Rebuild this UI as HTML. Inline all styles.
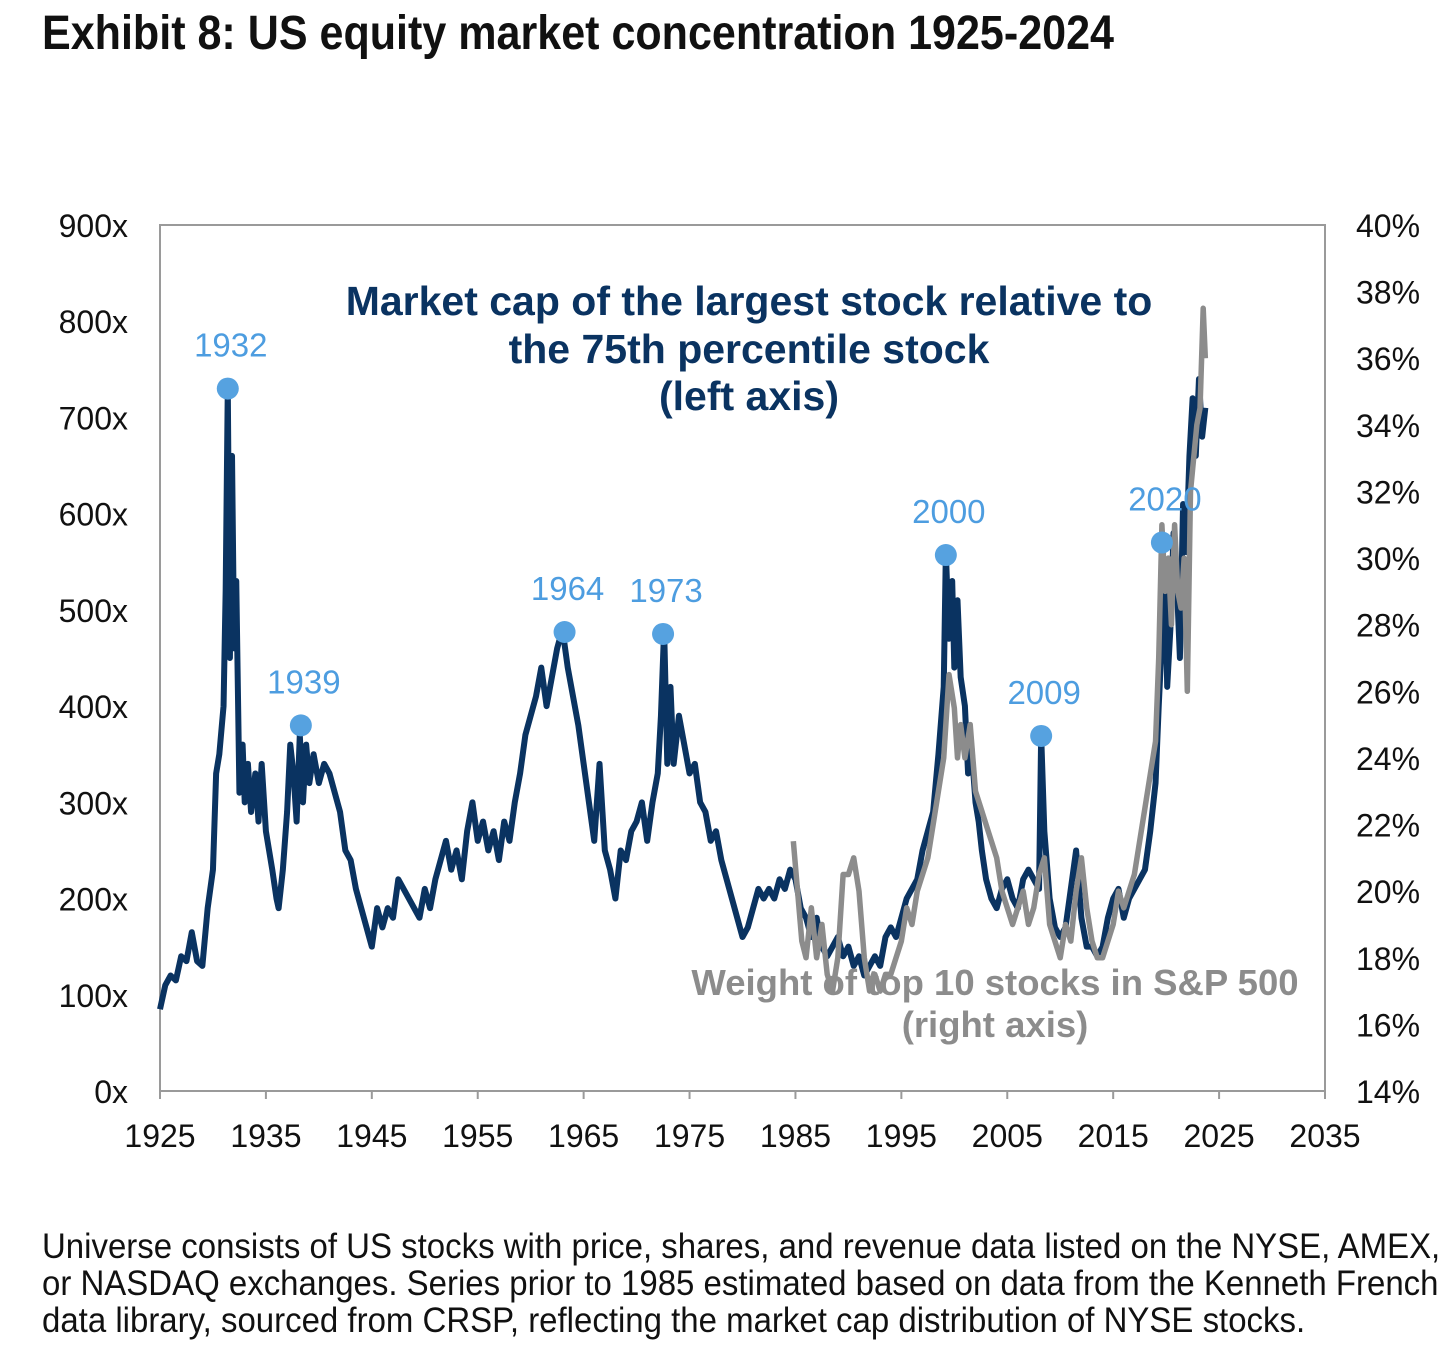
<!DOCTYPE html>
<html><head><meta charset="utf-8">
<style>
html,body{margin:0;padding:0;background:#fff;}
body{width:1456px;height:1362px;overflow:hidden;position:relative;font-family:"Liberation Sans",sans-serif;}
#title{position:absolute;left:42px;top:6px;font-family:"Liberation Sans",sans-serif;font-weight:bold;font-size:48px;color:#111;white-space:nowrap;transform:scaleX(0.897);transform-origin:left top;}
#foot{position:absolute;left:42px;top:1228px;font-family:"Liberation Sans",sans-serif;font-size:35px;line-height:37px;color:#111;white-space:nowrap;transform:scaleX(0.942);transform-origin:left top;}
svg{position:absolute;left:0;top:0;}
</style></head><body>
<div id="title">Exhibit 8: US equity market concentration 1925-2024</div>
<svg id="chart" width="1456" height="1362"></svg>
<div id="foot">Universe consists of US stocks with price, shares, and revenue data listed on the NYSE, AMEX,<br>or NASDAQ exchanges. Series prior to 1985 estimated based on data from the Kenneth French<br>data library, sourced from CRSP, reflecting the market cap distribution of NYSE stocks.</div>
<script>
const navyYears=[1925,1925.5,1926,1926.5,1927,1927.5,1928,1928.5,1929,1929.5,1930,1930.3,1930.6,1931,1931.2,1931.4,1931.6,1931.8,1932,1932.2,1932.5,1932.8,1933,1933.3,1933.6,1934,1934.3,1934.6,1935,1935.3,1935.6,1936,1936.2,1936.6,1937,1937.3,1937.6,1937.9,1938.2,1938.5,1938.8,1939.1,1939.5,1940,1940.5,1941,1941.5,1942,1942.5,1943,1943.5,1944,1944.5,1945,1945.5,1946,1946.5,1947,1947.5,1948,1948.5,1949,1949.5,1950,1950.5,1951,1951.5,1952,1952.5,1953,1953.5,1954,1954.5,1955,1955.5,1956,1956.5,1957,1957.5,1958,1958.5,1959,1959.5,1960,1960.5,1961,1961.5,1962,1962.5,1963,1963.5,1964,1964.5,1965,1965.5,1966,1966.5,1967,1967.5,1968,1968.5,1969,1969.5,1970,1970.5,1971,1971.5,1972,1972.3,1972.6,1972.9,1973.2,1973.5,1974,1974.5,1975,1975.5,1976,1976.5,1977,1977.5,1978,1978.5,1979,1979.5,1980,1980.5,1981,1981.5,1982,1982.5,1983,1983.5,1984,1984.5,1985,1985.5,1986,1986.5,1987,1987.5,1988,1988.5,1989,1989.5,1990,1990.5,1991,1991.5,1992,1992.5,1993,1993.5,1994,1994.5,1995,1995.5,1996,1996.5,1997,1997.5,1998,1998.5,1999,1999.2,1999.5,1999.8,2000,2000.3,2000.6,2001,2001.3,2001.6,2002,2002.3,2002.6,2003,2003.5,2004,2004.5,2005,2005.5,2006,2006.5,2007,2007.5,2008,2008.2,2008.5,2009,2009.5,2010,2010.5,2011,2011.5,2012,2012.5,2013,2013.5,2014,2014.5,2015,2015.5,2016,2016.5,2017,2017.5,2018,2018.5,2019,2019.3,2019.6,2019.9,2020.1,2020.4,2020.7,2021,2021.3,2021.6,2021.9,2022.2,2022.5,2022.8,2023.1,2023.4,2023.7];
const navyValues=[85,110,120,115,140,135,165,135,130,190,230,330,350,400,520,730,450,660,460,530,310,360,300,340,290,330,280,340,270,250,230,200,190,230,290,360,330,280,370,300,360,320,350,320,340,330,310,290,250,240,210,190,170,150,190,170,190,180,220,210,200,190,180,210,190,220,240,260,230,250,220,270,300,260,280,250,270,240,280,260,300,330,370,390,410,440,400,430,460,480,440,410,380,340,300,260,340,250,230,200,250,240,270,280,300,260,300,330,390,480,340,420,340,390,360,330,340,300,290,260,270,240,220,200,180,160,170,190,210,200,210,200,220,210,230,220,190,180,160,180,150,140,150,160,140,150,130,140,120,130,140,130,160,170,160,180,200,210,220,250,270,290,350,420,560,470,530,440,510,430,400,330,360,300,280,250,220,200,190,210,220,200,190,220,230,220,210,370,270,200,170,160,170,210,250,180,150,150,140,150,180,200,210,180,200,210,220,230,270,320,400,470,540,420,480,580,530,450,610,560,660,720,660,740,680,710];
const grayYears=[1984.8,1985.2,1985.6,1986,1986.5,1987,1987.5,1988,1988.5,1989,1989.5,1990,1990.5,1991,1991.5,1992,1992.5,1993,1993.5,1994,1994.5,1995,1995.5,1996,1996.5,1997,1997.5,1998,1998.5,1999,1999.5,2000,2000.3,2000.6,2001,2001.5,2002,2002.5,2003,2003.5,2004,2004.5,2005,2005.5,2006,2006.5,2007,2007.5,2008,2008.5,2009,2009.5,2010,2010.5,2011,2011.5,2012,2012.5,2013,2013.5,2014,2014.5,2015,2015.5,2016,2016.5,2017,2017.5,2018,2018.5,2019,2019.3,2019.6,2019.9,2020.2,2020.5,2020.8,2021.1,2021.4,2021.7,2022,2022.3,2022.6,2022.9,2023.2,2023.5,2023.7];
const grayValues=[21.5,20,18.5,18,19.5,18,19,17.5,17,18,20.5,20.5,21,20,18,17,17.5,17,17.5,17.5,18,18.5,19.5,19,20,20.5,21,22,23,24,26.5,25.5,24,25,24,25,23,22.5,22,21.5,21,20,19.5,19,19.5,20,19,19.5,20.5,21,19,18.5,18,19,18.5,20,21,19.5,18.5,18,18,18.5,19,20,19.5,20,20.5,21.5,22.5,23.5,24.5,27,31,29,30,28,31,29,28.5,30,26,32,33,34,34.5,37.5,36];
const peakLabels=["1932","1939","1964","1973","2000","2009","2020"];
const peakYears=[1931.4,1938.3,1963.2,1972.5,1999.2,2008.2,2019.6];
const peakValues=[730,380,477,475,557,369,570];
const xTicks=[1925,1935,1945,1955,1965,1975,1985,1995,2005,2015,2025,2035];
const yLeftTicks=[0,100,200,300,400,500,600,700,800,900];
const yRightTicks=[14,16,18,20,22,24,26,28,30,32,34,36,38,40];

const X0=160,X1=1325,YT=225,YB=1091;
const xs=v=>X0+(v-1925)/110*(X1-X0);
const yl=v=>YB-v/900*(YB-YT);
const yr=v=>YB-(v-14)/26*(YB-YT);
const svg=document.getElementById('chart');
const NS='http://www.w3.org/2000/svg';
function mk(tag,attrs,parent){const e=document.createElementNS(NS,tag);for(const k in attrs)e.setAttribute(k,attrs[k]);(parent||svg).appendChild(e);return e;}

const frame=mk('rect',{x:X0,y:YT,width:X1-X0,height:YB-YT,fill:'none',stroke:'#9a9a9a','stroke-width':2});



xTicks.forEach(t=>{
  const tk=mk('line',{x1:xs(t),x2:xs(t),y1:YB,y2:YB+8,stroke:'#9a9a9a','stroke-width':2});
  
  
  const tx=mk('text',{x:xs(t),y:YB+56,'text-anchor':'middle','font-size':32,fill:'#111'});
  tx.textContent=t;
  
  
});
yLeftTicks.forEach(t=>{
  const tx=mk('text',{x:128,y:yl(t)+12,'text-anchor':'end','font-size':32,fill:'#111'});
  tx.textContent=t+'x';
  
  
});
yRightTicks.forEach(t=>{
  const tx=mk('text',{x:1356,y:yr(t)+12,'text-anchor':'start','font-size':32,fill:'#111'});
  tx.textContent=t+'%';
  
  
});

const nav=mk('polyline',{points:navyYears.map((y,i)=>xs(y)+','+yl(navyValues[i])).join(' '),fill:'none',stroke:'#0a3361','stroke-width':6,'stroke-linejoin':'round'});


const gr=mk('polyline',{points:grayYears.map((y,i)=>xs(y)+','+yr(grayValues[i])).join(' '),fill:'none',stroke:'#8c8c8c','stroke-width':5.5,'stroke-linejoin':'round'});



peakLabels.forEach((l,i)=>{
  const c=mk('circle',{cx:xs(peakYears[i]),cy:yl(peakValues[i]),r:11,fill:'#56a2e0'});
  
  
  const tx=mk('text',{x:xs(peakYears[i])+3,y:yl(peakValues[i])-32,'text-anchor':'middle','font-size':33,fill:'#4d9de0'});
  tx.textContent=l;
  
  
});

[["Market cap of the largest stock relative to",315],["the 75th percentile stock",363],["(left axis)",410]].forEach(([s,y])=>{
  const t=mk('text',{x:749,y:y,'text-anchor':'middle','font-size':41,'font-weight':'bold',fill:'#0a3361'});
  t.textContent=s;
  
  
});
[["Weight of top 10 stocks in S&P 500",995],["(right axis)",1037]].forEach(([s,y])=>{
  const t=mk('text',{x:995,y:y,'text-anchor':'middle','font-size':36.5,'font-weight':'bold',fill:'#8c8c8c'});
  t.textContent=s;
  
  
});
</script>
</body></html>
